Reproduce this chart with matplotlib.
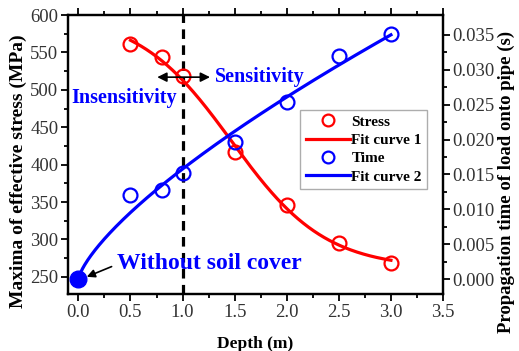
import numpy as np
import matplotlib.pyplot as plt

plt.rcParams['font.family'] = ['Liberation Serif', 'DejaVu Serif']

# depth (m) and measured values
depth_stress = [0.5, 0.8, 1.0, 1.5, 2.0, 2.5, 3.0]
stress = [561, 544, 518, 417, 346, 295, 269]  # MPa
depth_time = [0.0, 0.5, 0.8, 1.0, 1.5, 2.0, 2.5, 3.0]
prop_time = [0.0, 0.0121, 0.0128, 0.0152, 0.0197, 0.0254, 0.0319, 0.0351]  # s

x_ticks = [0.0, 0.5, 1.0, 1.5, 2.0, 2.5, 3.0, 3.5]
left_ticks = [250, 300, 350, 400, 450, 500, 550, 600]
right_ticks = [0.000, 0.005, 0.010, 0.015, 0.020, 0.025, 0.030, 0.035]

# fit curve 1: Boltzmann sigmoid, A1/A2 solved linearly for each (x0, dx)
xs_ = np.array(depth_stress)
ys_ = np.array(stress, dtype=float)
best1 = None
for x0 in np.linspace(0.8, 2.5, 171):
    for dx in np.linspace(0.15, 1.5, 136):
        s = 1.0 / (1.0 + np.exp((xs_ - x0) / dx))
        M = np.column_stack([s, 1 - s])
        coef, *_ = np.linalg.lstsq(M, ys_, rcond=None)
        err = np.sum((M @ coef - ys_) ** 2)
        if best1 is None or err < best1[0]:
            best1 = (err, x0, dx, coef)
_, x0, dx, (A1, A2) = best1
xs1 = np.linspace(min(depth_stress), max(depth_stress), 200)
ys1 = A2 + (A1 - A2) / (1.0 + np.exp((xs1 - x0) / dx))

# fit curve 2: power law y = a*x^b, least squares with a scanned exponent
xt = np.array(depth_time)
yt = np.array(prop_time)
best2 = None
for b in np.linspace(0.3, 1.2, 901):
    g = xt ** b
    a = (g @ yt) / (g @ g)
    err = np.sum((a * g - yt) ** 2)
    if best2 is None or err < best2[0]:
        best2 = (err, a, b)
_, a2, b2 = best2
xs2 = np.linspace(0, 3.0, 300)
ys2 = a2 * xs2 ** b2

fig = plt.figure(figsize=(5.19, 3.51), dpi=100)
ax = fig.add_axes([0.131, 0.1624, 0.7226, 0.7946])
ax2 = ax.twinx()

lw = 2.3
l_s, = ax.plot(depth_stress, stress, 'o', ms=10, mfc='none', mec='red', mew=1.6)
l_f1, = ax.plot(xs1, ys1, '-', color='red', lw=lw)
l_t, = ax2.plot(depth_time[1:], prop_time[1:], 'o', ms=10, mfc='none', mec='blue', mew=1.6)
l_f2, = ax2.plot(xs2, ys2, '-', color='blue', lw=lw)
ax2.plot(depth_time[0], prop_time[0], 'o', ms=12, color='blue', zorder=5)

ax.set_xlim(-0.1, 3.5)
ax.set_ylim(227, 600)
ax2.set_ylim(-0.0021, 0.0378)

ax.set_xticks(x_ticks)
ax.set_xticklabels([f'{v:.1f}' for v in x_ticks])
ax.set_xticks(np.arange(0.25, 3.5, 0.5), minor=True)
ax.set_yticks(left_ticks)
ax.set_yticks(np.arange(275, 600, 50), minor=True)
ax2.set_yticks(right_ticks)
ax2.set_yticklabels([f'{v:.3f}' for v in right_ticks])
ax2.set_yticks(np.arange(0.0025, 0.036, 0.005), minor=True)

for a in (ax, ax2):
    for s in a.spines.values():
        s.set_linewidth(1.6)
    a.tick_params(which='both', direction='out', width=1.3, labelsize=13.5,
                  labelcolor='#333333', pad=2)
    a.tick_params(which='major', length=5)
    a.tick_params(which='minor', length=3)
ax.tick_params(which='both', top=True)

ax.set_xlabel('Depth (m)', fontsize=12.5, fontweight='bold', labelpad=11)
ax.set_ylabel('Maxima of effective stress (MPa)', fontsize=14, fontweight='bold')
ax2.set_ylabel('Propagation time of load onto pipe (s)', fontsize=13.5, fontweight='bold')
ax.yaxis.set_label_coords(-0.109, 0.44)
ax2.yaxis.set_label_coords(1.147, 0.40)

# boundary between insensitive and sensitive depth
ax.axvline(1.0, color='black', lw=2.3, ls=(0, (3, 2)), zorder=1)
ax.annotate('', xy=(0.73, 517), xytext=(1.29, 517),
            arrowprops=dict(arrowstyle='<|-|>', color='black', lw=1.2, mutation_scale=14))
ax.text(1.31, 517, 'Sensitivity', color='blue', fontsize=14.5, fontweight='bold', va='center', ha='left')
ax.text(-0.07, 489, 'Insensitivity', color='blue', fontsize=14.5, fontweight='bold', va='center', ha='left')
ax.annotate('Without soil cover', xy=(0.08, 250), xytext=(0.37, 268),
            color='blue', fontsize=17, fontweight='bold', va='center', ha='left',
            arrowprops=dict(arrowstyle='-|>', color='black', lw=1.2, mutation_scale=12,
                            relpos=(0, 0.45), shrinkA=2, shrinkB=0))

leg = ax.legend([l_s, l_f1, l_t, l_f2], ['Stress', 'Fit curve 1', 'Time', 'Fit curve 2'],
                loc='lower right', bbox_to_anchor=(0.97, 0.36),
                prop={'weight': 'bold', 'size': 11}, frameon=True, fancybox=False,
                handlelength=2.9, handletextpad=0.1, borderpad=0.35, labelspacing=0.3,
                borderaxespad=0.3, markerscale=0.85)
leg.get_frame().set_edgecolor('#999999')
leg.get_frame().set_linewidth(1.0)

fig.savefig('out.png', dpi=100)
